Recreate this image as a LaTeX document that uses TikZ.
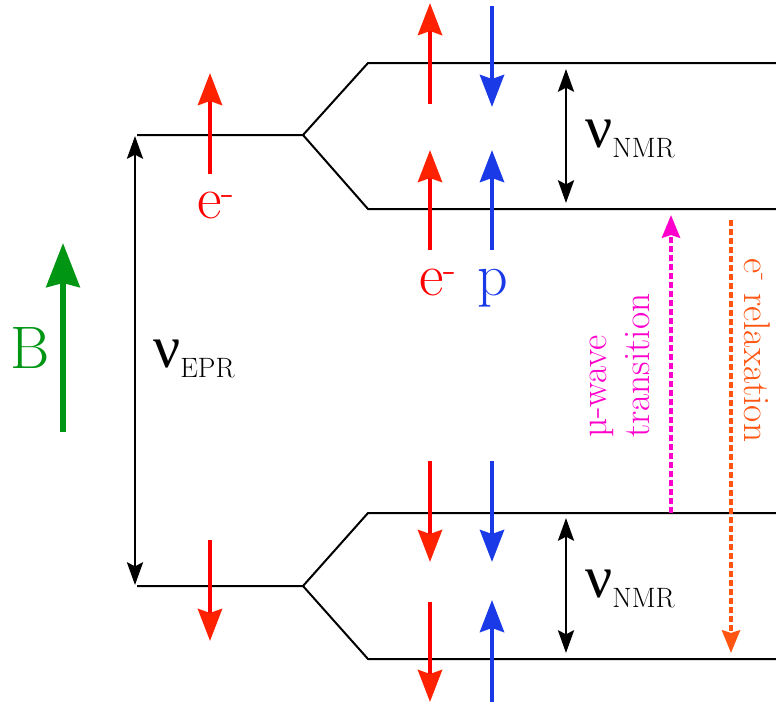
\documentclass[tikz,border=0pt]{standalone}
\usepackage{fontspec}
\newfontfamily\grk{Liberation Serif}
\usetikzlibrary{arrows.meta}
\definecolor{sred}{RGB}{255,0,0}
\definecolor{tred}{RGB}{255,34,0}
\definecolor{sblue}{RGB}{26,58,232}
\definecolor{sgreen}{RGB}{0,150,20}
\definecolor{spink}{RGB}{255,0,204}
\definecolor{sorange}{RGB}{255,85,17}
\tikzset{
  level/.style={line width=1.5pt, line join=miter},
  redup/.style={sred, line width=3.5pt, -{Stealth[length=24pt,width=18pt,inset=3pt,color=tred]}},
  blueup/.style={sblue, line width=3.5pt, -{Stealth[length=24pt,width=18pt,inset=3pt]}},
  dbl/.style={line width=2.2pt, {Stealth[length=17pt,width=12pt,inset=3pt]}-{Stealth[length=17pt,width=12pt,inset=3pt]}},
  dashedarrow/.style={line width=3pt, dash pattern=on 4.5pt off 2.25pt, -{Stealth[length=17pt,width=13.5pt,inset=2pt]}},
  bigtext/.style={inner sep=0pt, font=\fontsize{45}{50}\selectfont},
  smalltext/.style={inner sep=0pt, font=\fontsize{28}{32}\selectfont},
}
\newcommand{\nulab}[1]{{\grk ν}\raisebox{-8pt}{\fontsize{21}{24}\selectfont #1}}
\begin{document}
\begin{tikzpicture}[x=0.75pt,y=-0.75pt]
\useasboundingbox (0,0) rectangle (776,704);
% levels
\coordinate (UL) at (137,135);
\coordinate (US) at (303,135);
\coordinate (UA) at (368,63);
\coordinate (UB) at (368,209);
\coordinate (UAe) at (776,63);
\coordinate (UBe) at (776,209);
\coordinate (LL) at (137,586);
\coordinate (LS) at (303,586);
\coordinate (LA) at (368,513);
\coordinate (LB) at (368,659);
\coordinate (LAe) at (776,513);
\coordinate (LBe) at (776,659);
\draw[level] (UL) -- (US) -- (UA) -- (UAe);
\draw[level] (US) -- (UB) -- (UBe);
\draw[level] (LL) -- (LS) -- (LA) -- (LAe);
\draw[level] (LS) -- (LB) -- (LBe);
% EPR arrow
\coordinate (E1) at (135,136);
\coordinate (E2) at (135,585);
\draw[dbl] (E1) -- (E2);
\node[bigtext, anchor=base west] (nuepr) at (153,367) {\nulab{EPR}};
% NMR arrows
\coordinate (N1) at (566,69);
\coordinate (N2) at (566,203);
\draw[dbl] (N1) -- (N2);
\node[bigtext, anchor=base west] (nunmr1) at (585,147) {\nulab{NMR}};
\coordinate (N3) at (566,518);
\coordinate (N4) at (566,653);
\draw[dbl] (N3) -- (N4);
\node[bigtext, anchor=base west] (nunmr2) at (585,597) {\nulab{NMR}};
% B field
\coordinate (B1) at (63,432);
\coordinate (B2) at (63,243);
\draw[sgreen, line width=4.5pt, -{Stealth[length=33pt,width=25pt,inset=3pt]}] (B1) -- (B2);
\node[bigtext, sgreen, anchor=base] (B) at (30,368) {B};
% left spins
\draw[redup] (210,174) -- (210,73);
\draw[redup] (210,540) -- (210,641);
\node[bigtext, sred, anchor=base west] (eleft) at (197,218) {e\textsuperscript{-}};
% right spins upper
\draw[redup] (430,104) -- (430,3);
\draw[blueup] (492,6) -- (492,107);
\draw[redup] (430,250) -- (430,150);
\draw[blueup] (492,250) -- (492,150);
\node[bigtext, sred, anchor=base west] (eright) at (419,295) {e\textsuperscript{-}};
\node[bigtext, sblue, anchor=base west] (p) at (477,295) {p};
% right spins lower
\draw[redup] (430,461) -- (430,562);
\draw[blueup] (492,461) -- (492,562);
\draw[redup] (430,602) -- (430,702);
\draw[blueup] (492,702) -- (492,600);
% transitions
\coordinate (M1) at (671,513);
\coordinate (M2) at (671,215);
\draw[dashedarrow, spink] (M1) -- (M2);
\node[smalltext, spink, rotate=90, anchor=west, align=left] (mw) at (620,438) {µ-wave\\transition};
\coordinate (R1) at (731,220);
\coordinate (R2) at (731,653);
\draw[dashedarrow, sorange] (R1) -- (R2);
\node[smalltext, sorange, rotate=-90, anchor=west] (relax) at (757,258) {e\textsuperscript{-} relaxation};
\end{tikzpicture}
\end{document}
